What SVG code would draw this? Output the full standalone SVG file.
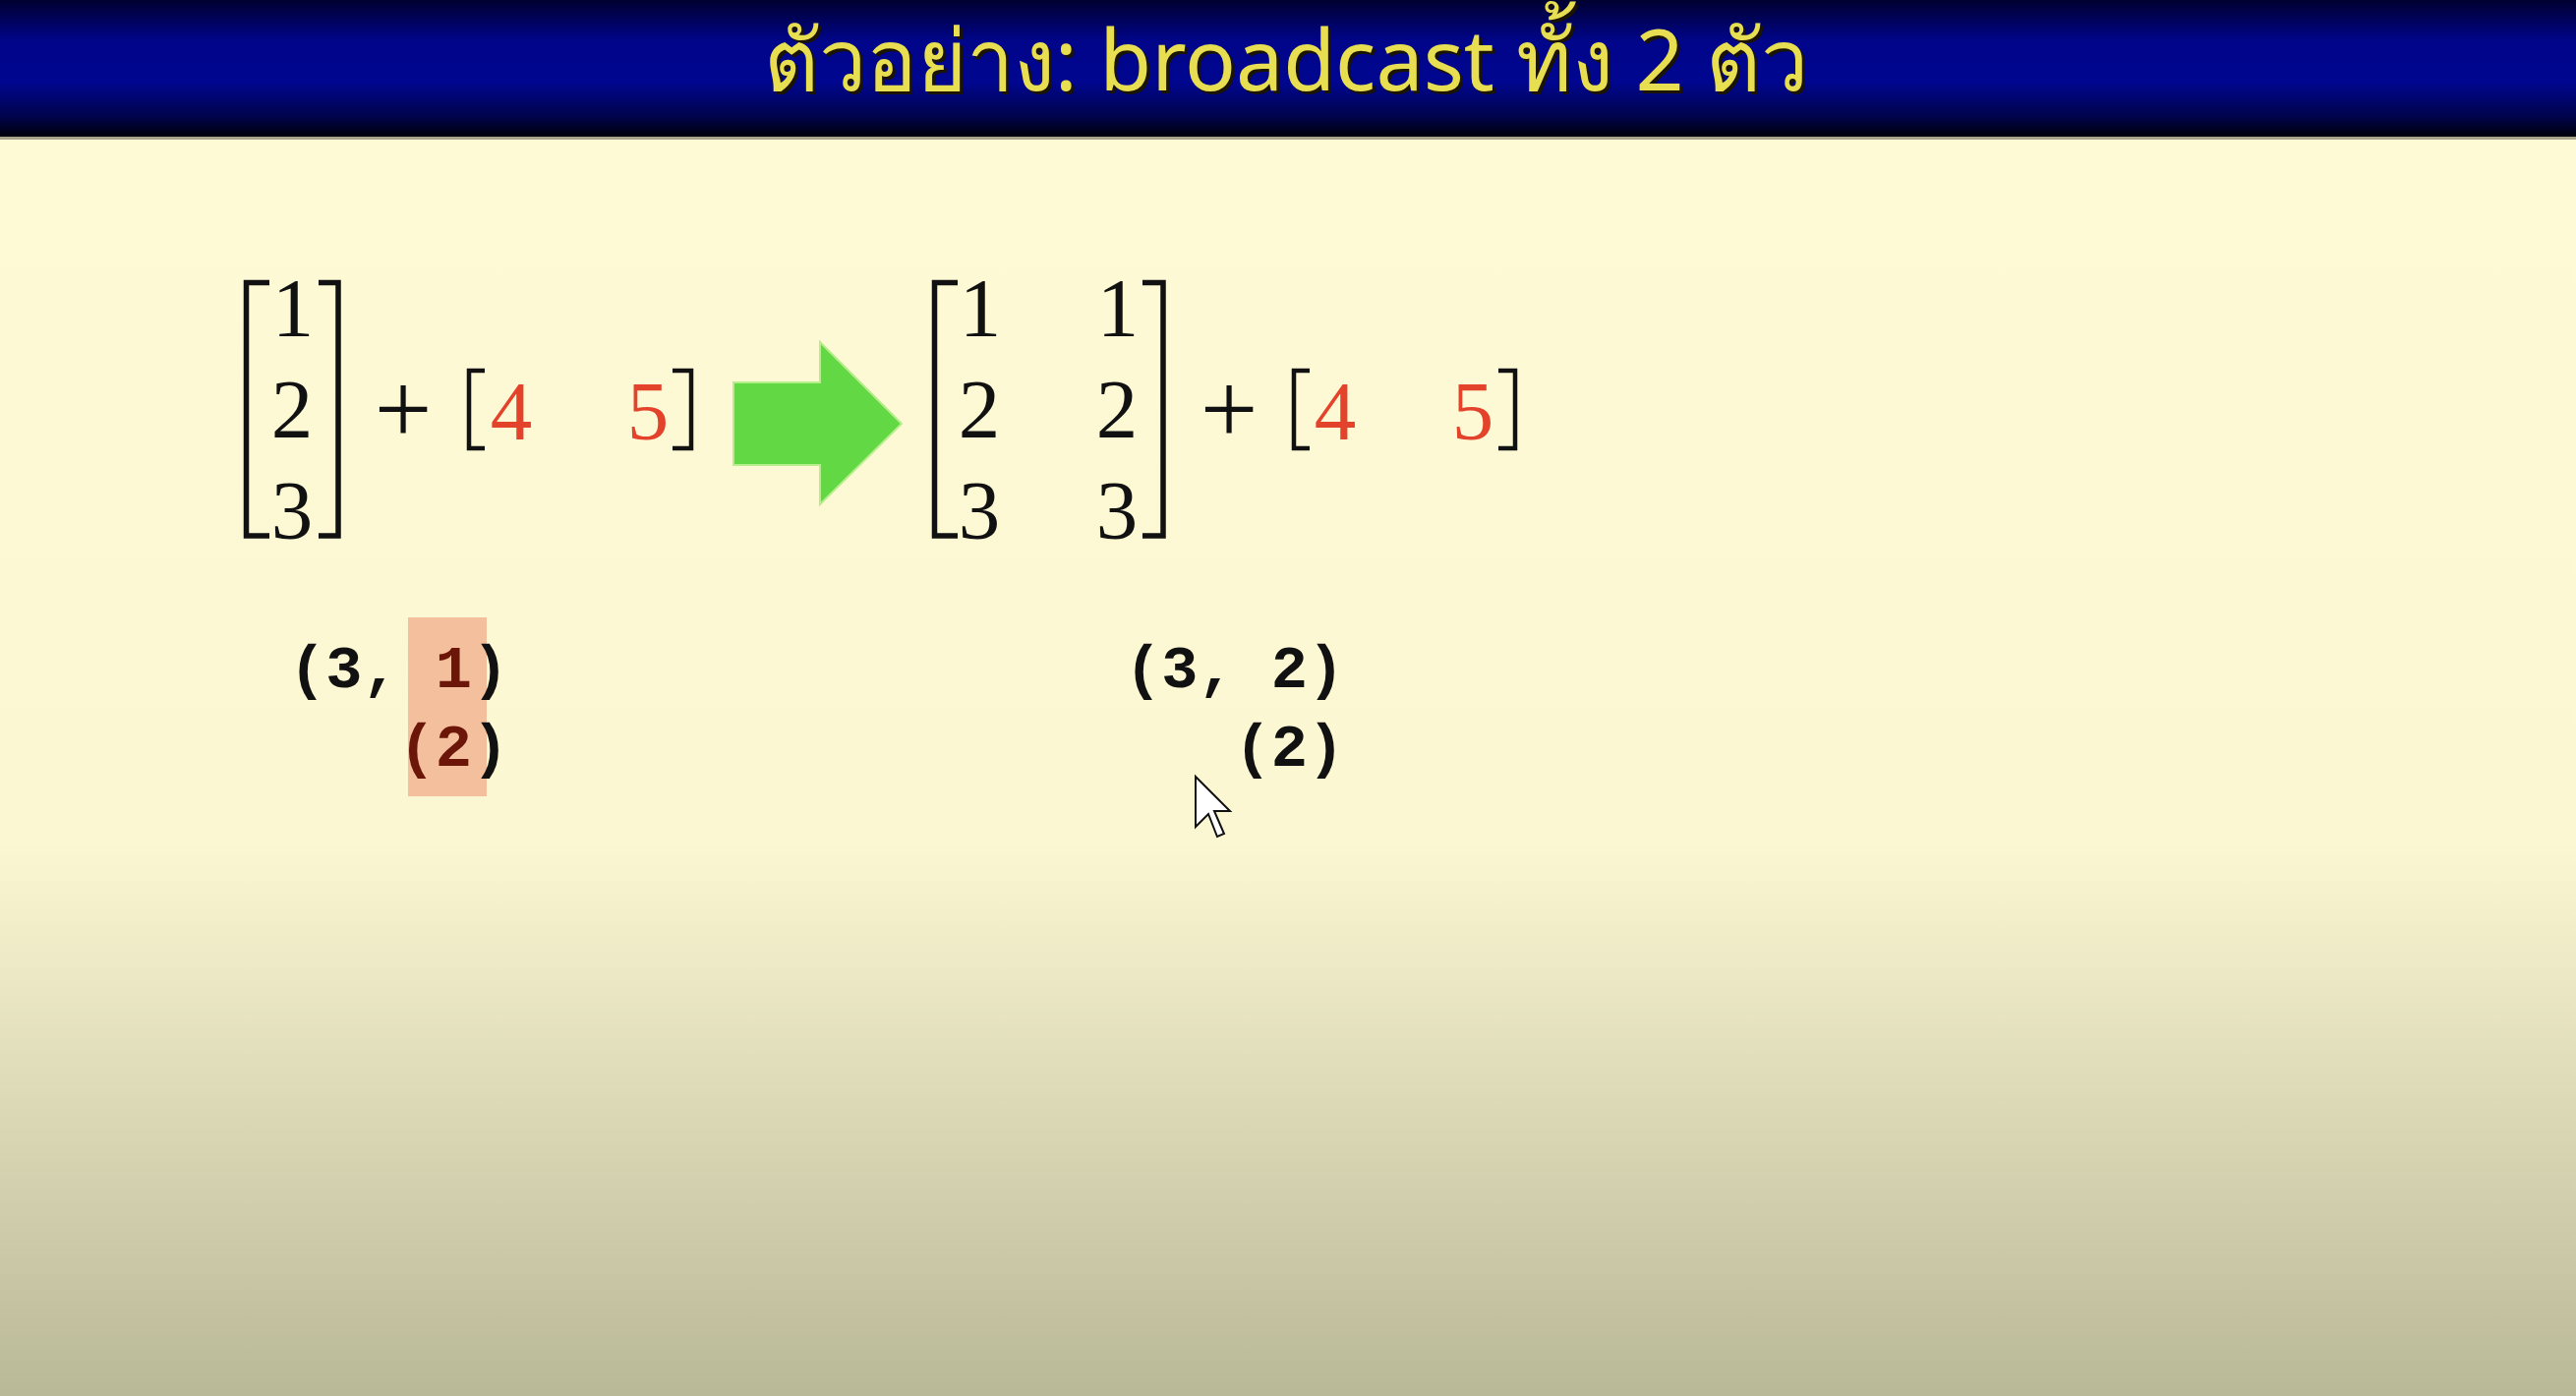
<svg xmlns="http://www.w3.org/2000/svg" width="2620" height="1420" viewBox="0 0 2620 1420">
<defs>
<linearGradient id="barGrad" x1="0" y1="0" x2="0" y2="1">
<stop offset="0" stop-color="#000030"/>
<stop offset="0.3" stop-color="#00058a"/>
<stop offset="0.6" stop-color="#00068f"/>
<stop offset="0.85" stop-color="#00034a"/>
<stop offset="1" stop-color="#000006"/>
</linearGradient>
<linearGradient id="bodyGrad" gradientUnits="userSpaceOnUse" x1="0" y1="140" x2="0" y2="1420">
<stop offset="0" stop-color="#fffad6"/>
<stop offset="0.56" stop-color="#fcf7d3"/>
<stop offset="1" stop-color="#b9b897"/>
</linearGradient>
<style>
.title{font-family:"Noto Sans","DejaVu Sans",sans-serif;font-size:86px;}
.num{font-family:"Liberation Serif","DejaVu Serif",serif;font-size:85px;fill:#111;text-anchor:middle;}
.red{fill:#e3432b;}
.op{font-family:"Liberation Serif","DejaVu Serif",serif;font-size:104px;fill:#111;text-anchor:middle;}
.brk{fill:none;stroke:#111;stroke-width:5.5;stroke-linecap:butt;stroke-linejoin:miter;}
.brks{fill:none;stroke:#111;stroke-width:4.5;}
.shape{font-family:"Liberation Mono","DejaVu Sans Mono",monospace;font-size:62px;font-weight:bold;fill:#111;}
.hl{fill:#6b1608;}
</style>
</defs>
<rect x="0" y="0" width="2620" height="1420" fill="url(#bodyGrad)"/>
<g id="titlebar">
<rect x="0" y="0" width="2620" height="140" fill="url(#barGrad)"/>
<rect x="0" y="139" width="2620" height="3" fill="#a8a48c"/>
<text class="title" x="1311" y="95" text-anchor="middle" fill="#1a1400">ตัวอย่าง: broadcast ทั้ง 2 ตัว</text>
<text class="title" x="1308" y="92" text-anchor="middle" fill="#e8de52">ตัวอย่าง: broadcast ทั้ง 2 ตัว</text>
</g>
<g id="left-expr">
<path class="brk" d="M274,287.5 H250.5 V545 H274"/>
<path class="brk" d="M324,287.5 H344 V545 H324"/>
<text class="num" x="298" y="342">1</text>
<text class="num" x="297" y="445">2</text>
<text class="num" x="297" y="548">3</text>
<text class="op" x="410" y="451">+</text>
<path class="brks" d="M493,377 H477 V456 H493"/>
<text class="num red" x="520" y="447">4</text>
<text class="num red" x="659" y="447">5</text>
<path class="brks" d="M684,377 H703 V456 H684"/>
</g>
<g id="arrow">
<polygon points="746,389 834,389 834,348 917,431 834,513 834,473 746,473" fill="#62d944" stroke="#b5ee8a" stroke-width="2"/>
</g>
<g id="right-expr">
<path class="brk" d="M974,287.5 H950.5 V545 H974"/>
<path class="brk" d="M1162,287.5 H1183 V545 H1162"/>
<text class="num" x="997" y="342">1</text>
<text class="num" x="996" y="445">2</text>
<text class="num" x="996" y="548">3</text>
<text class="num" x="1137" y="342">1</text>
<text class="num" x="1136" y="445">2</text>
<text class="num" x="1136" y="548">3</text>
<text class="op" x="1250" y="451">+</text>
<path class="brks" d="M1332,377 H1316 V456 H1332"/>
<text class="num red" x="1358" y="447">4</text>
<text class="num red" x="1498" y="447">5</text>
<path class="brks" d="M1524,377 H1541 V456 H1524"/>
</g>
<g id="left-shape">
<rect x="415" y="628" width="80" height="182" fill="#f4bf9c"/>
<text class="shape" x="294" y="699" xml:space="preserve">(3, <tspan class="hl">1</tspan>)</text>
<text class="shape" x="405.6" y="779"><tspan class="hl">(2</tspan>)</text>
</g>
<g id="right-shape">
<text class="shape" x="1144" y="699" xml:space="preserve">(3, 2)</text>
<text class="shape" x="1255.6" y="779">(2)</text>
</g>
<g id="cursor">
<polygon points="1216,790 1216,841 1229,828 1238,851 1245,848 1235,825 1251,825" fill="#ffffff" stroke="#111" stroke-width="2" stroke-linejoin="miter"/>
</g>
</svg>
